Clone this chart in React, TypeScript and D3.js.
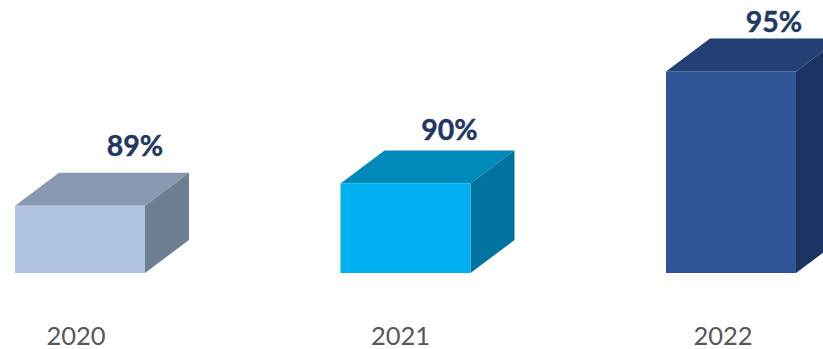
import React from "react";
import * as d3 from "d3";

const categories = ["2020", "2021", "2022"];
const values = [89, 90, 95];
const valueLabels = ["89%", "90%", "95%"];
const frontColors = ["#b0c4e3", "#00b0f0", "#2f5597"];
const topColors = ["#8a99b2", "#0089bb", "#233f73"];
const sideColors = ["#6f7f92", "#00739e", "#1b3360"];
const labelColor = "#1f3864";
const axisColor = "#595959";

const WIDTH = 823;
const HEIGHT = 349;
const y = d3.scaleLinear().domain([86, 95]).range([273, 71.4]);
const barW = 130;
const depthX = 44;
const depthY = 33;
const step = 325.5;
const xPos = d3.scaleLinear().domain([0, 1]).range([15, 15 + step]);
const labelOffsets = [120, 109, 108];
const labelY = [155.5, 140, 32];
const catOffsets = [61, 60, 57];

const poly = (p: [number, number][]) => (d3.line()(p) as string) + "Z";

export default function App() {
  return (
    <svg width={WIDTH} height={HEIGHT} style={{ position: "fixed", left: 0, top: 0, background: "#fff" }}>
      <g>
        {categories.map((c, i) => {
          const x0 = xPos(i);
          const x1 = x0 + barW;
          const yT = y(values[i]);
          const yB = y(86);
          return (
            <g key={c}>
              <path d={poly([[x0, yT], [x1, yT], [x1 + depthX, yT - depthY], [x0 + depthX, yT - depthY]])} fill={topColors[i]} />
              <path d={poly([[x1, yT], [x1 + depthX, yT - depthY], [x1 + depthX, yB - depthY], [x1, yB]])} fill={sideColors[i]} />
              <rect x={x0} y={yT} width={barW} height={yB - yT} fill={frontColors[i]} />
              <text x={x0 + labelOffsets[i]} y={labelY[i]} textAnchor="middle" fontFamily="Lato" fontWeight={700} fontSize={28.5} fill={labelColor} stroke={labelColor} strokeWidth={0.4}>
                {valueLabels[i]}
              </text>
              <text x={x0 + catOffsets[i]} y={345} textAnchor="middle" fontFamily="Lato" fontSize={25.5} fill={axisColor}>
                {c}
              </text>
            </g>
          );
        })}
      </g>
    </svg>
  );
}
